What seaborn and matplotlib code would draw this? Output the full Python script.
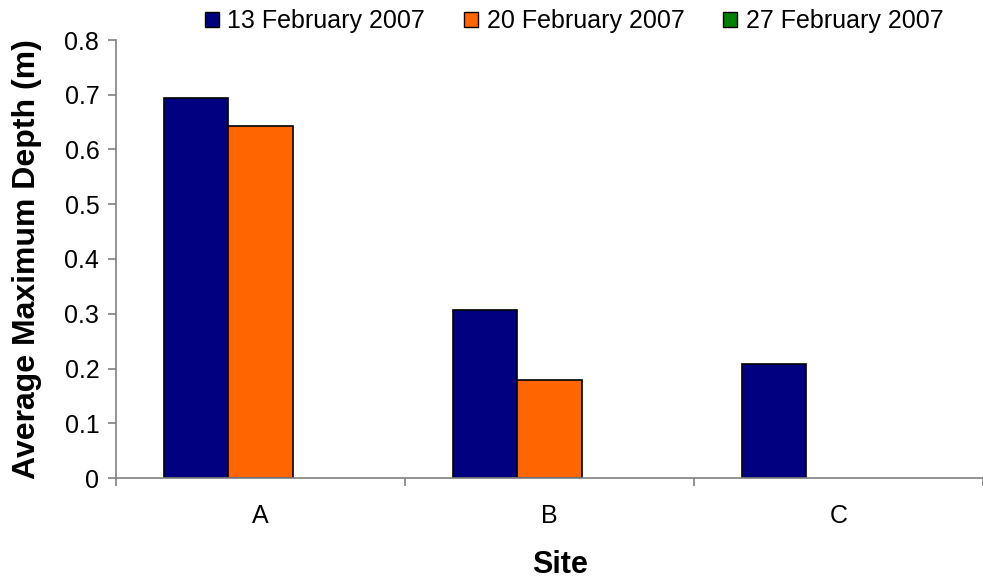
import numpy as np
import pandas as pd
import matplotlib
matplotlib.use("Agg")
import matplotlib.pyplot as plt
from matplotlib.patches import Patch
from matplotlib.ticker import FixedLocator, FuncFormatter
import seaborn as sns

sites = ["A", "B", "C"]
dates = ["13 February 2007", "20 February 2007", "27 February 2007"]
depth_13feb = [0.694, 0.307, 0.208]
depth_20feb = [0.643, 0.179, np.nan]
depth_27feb = [np.nan, np.nan, np.nan]
colors = ["#000080", "#FF6600", "#008000"]

df = pd.DataFrame({
    "Site": sites * 3,
    "Date": [dates[0]] * 3 + [dates[1]] * 3 + [dates[2]] * 3,
    "Depth": depth_13feb + depth_20feb + depth_27feb,
})

sns.set_style("white")
plt.rcParams["font.family"] = ["Liberation Sans", "DejaVu Sans"]
plt.rcParams["text.color"] = "black"
plt.rcParams["axes.labelcolor"] = "black"
plt.rcParams["xtick.labelcolor"] = "black"
plt.rcParams["ytick.labelcolor"] = "black"

fig = plt.figure(figsize=(9.83, 5.81), dpi=100)
ax = fig.add_axes([116 / 983, 1 - 478 / 581, (983 - 116) / 983, (478 - 40) / 581])

sns.barplot(data=df, x="Site", y="Depth", hue="Date", order=sites, hue_order=dates,
            palette=colors, saturation=1, width=0.665, edgecolor="black", linewidth=1.2,
            legend=False, ax=ax, errorbar=None)

ax.set_xlim(-0.5, 2.5)
ax.set_ylim(0, 0.8)
ax.set_yticks(np.arange(0, 0.81, 0.1))
ax.yaxis.set_major_formatter(FuncFormatter(lambda v, p: "0" if abs(v) < 1e-9 else f"{v:.1f}"))

for s in ["top", "right"]:
    ax.spines[s].set_visible(False)
for s in ["left", "bottom"]:
    ax.spines[s].set_color("#808080")
    ax.spines[s].set_linewidth(1.2)

ax.tick_params(axis="y", direction="out", length=6, width=1.2, color="#808080",
               labelsize=18, pad=6, left=True)
ax.tick_params(axis="x", which="major", length=0, labelsize=18, pad=19)
ax.xaxis.set_minor_locator(FixedLocator([-0.5, 0.5, 1.5, 2.5]))
ax.tick_params(axis="x", which="minor", direction="out", length=6, width=1.2,
               color="#808080", bottom=True)

ax.set_xlabel("Site", fontsize=22, fontweight="bold")
ax.set_ylabel("Average Maximum Depth (m)", fontsize=23, fontweight="bold")
ax.xaxis.set_label_coords(0.512, -0.165)
ax.yaxis.set_label_coords(-0.085, 0.5)

handles = [Patch(facecolor=c, edgecolor="black", linewidth=1.0) for c in colors]
fig.legend(handles, dates, loc="center", bbox_to_anchor=(574 / 983, 1 - 21 / 581),
           ncol=3, frameon=False, fontsize=18, handlelength=0.56, handleheight=0.56,
           handletextpad=0.35, columnspacing=1.55, borderpad=0, borderaxespad=0)

fig.savefig("out.png", dpi=100)
